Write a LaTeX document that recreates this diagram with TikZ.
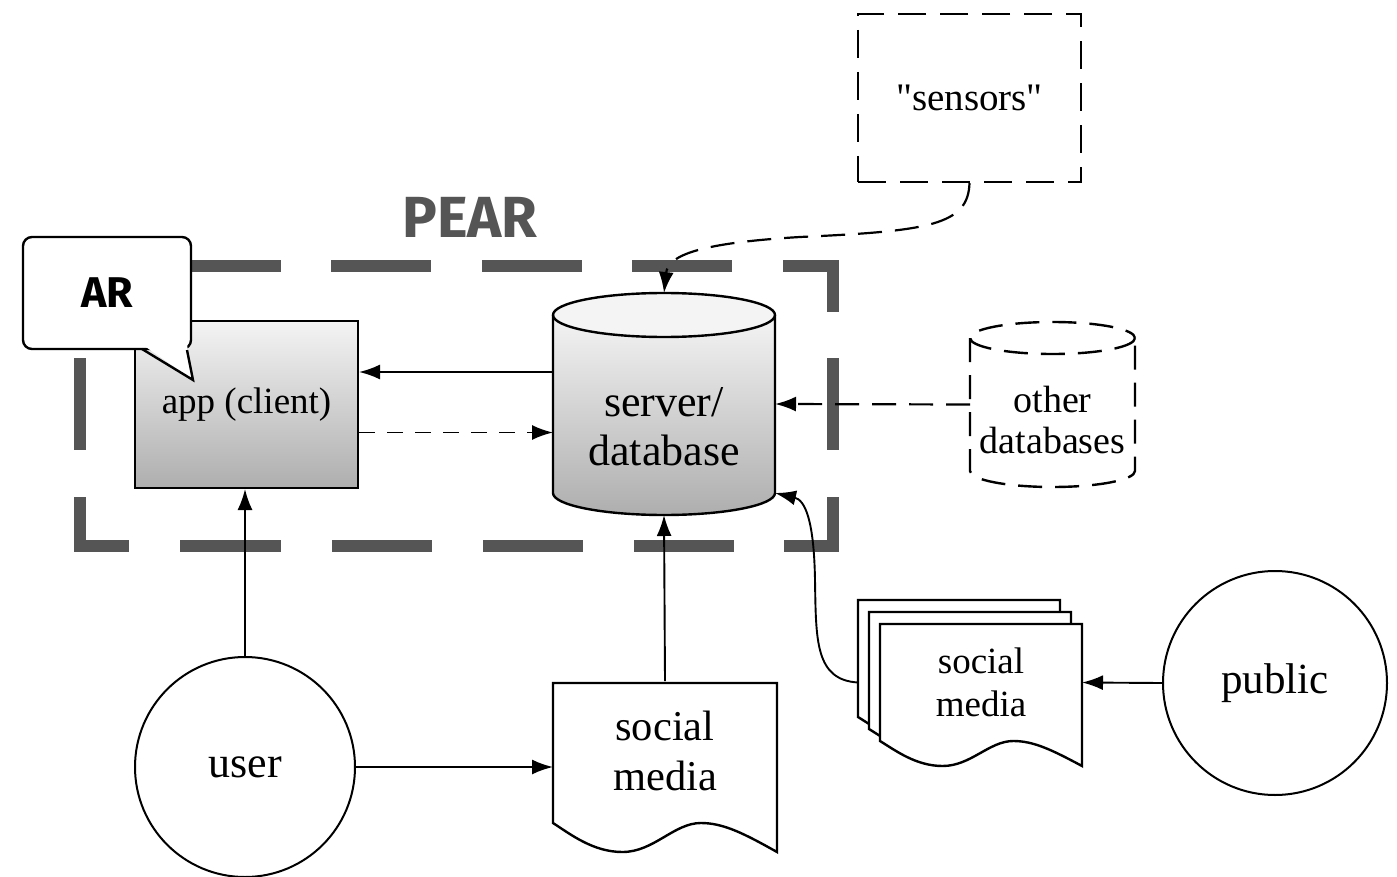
\documentclass[tikz,border=0pt]{standalone}
\usepackage{fontspec}
\setmainfont{Liberation Serif}
\newfontfamily\pearfont{Fira Sans}
\font\sensorsfont="Liberation Serif" at 39pt
\usetikzlibrary{arrows.meta}
\definecolor{peargray}{HTML}{555555}
\definecolor{gradtop}{HTML}{F4F4F4}
\definecolor{gradbot}{HTML}{AEAEAE}
\newcommand\docshape[5]{%
  \draw[shapeline, fill=white] (#1,#2) -- ({#1+#3},#2) -- ({#1+#3},{#2+#4+#5})
    .. controls ({#1+0.85*#3},{#2+#4+0.35*#5}) and ({#1+0.76*#3},{#2+#4}) .. ({#1+0.66*#3},{#2+#4})
    .. controls ({#1+0.54*#3},{#2+#4}) and ({#1+0.45*#3},{#2+#4+#5}) .. ({#1+0.31*#3},{#2+#4+#5})
    .. controls ({#1+0.18*#3},{#2+#4+#5}) and ({#1+0.08*#3},{#2+#4+0.4*#5}) .. (#1,{#2+#4}) -- cycle;}
\begin{document}
\begin{tikzpicture}[x=1pt,y=-1pt,line join=miter,
  shapeline/.style={draw=black, line width=2.4pt},
  pearline/.style={draw=peargray, line width=12pt, line cap=butt},
  conn/.style={line width=1.9pt, -{Latex[length=21pt,width=15pt]}},
  dconn/.style={conn, dash pattern=on 16pt off 12pt},
  dconnb/.style={conn, line width=2.2pt, dash pattern=on 24pt off 13pt},
  dshape/.style={draw=black, line width=2.4pt, dash pattern=on 28pt off 14pt},
  anchorbox/.style={inner sep=0pt, outer sep=0pt}
]
\useasboundingbox (0,0) rectangle (1397,877);

% PEAR dashed frame
\draw[pearline] (80,312) -- (80,266) -- (131,266);
\draw[pearline] (783,266) -- (833,266) -- (833,312);
\draw[pearline] (80,497) -- (80,546) -- (129,546);
\draw[pearline] (784,546) -- (833,546) -- (833,497);
\foreach \a/\b in {181/281,331/431,482/582,632/732} \draw[pearline] (\a,266) -- (\b,266);
\foreach \a/\b in {180/281,332/432,483/583,634/734} \draw[pearline] (\a,546) -- (\b,546);
\draw[pearline] (80,358) -- (80,450);
\draw[pearline] (833,358) -- (833,450);
\node[text=peargray, font=\pearfont\bfseries\fontsize{58}{60}\selectfont] (pear) at (470,217) {PEAR};

% app (client)
\node[draw=black, line width=2pt, top color=gradtop, bottom color=gradbot,
      minimum width=223pt, minimum height=167pt, inner sep=0pt,
      font=\fontsize{37}{42}\selectfont] (app) at (246.5,404.5) {app (client)};

% server/database cylinder
\shade[top color=gradtop, bottom color=gradbot] (553,315) -- (553,493)
   arc[start angle=180, end angle=0, x radius=111, y radius=22] -- (775,315) -- cycle;
\draw[shapeline, fill=gradtop] (664,315) ellipse [x radius=111, y radius=22];
\draw[shapeline] (553,315) -- (553,493) arc[start angle=180, end angle=0, x radius=111, y radius=22] -- (775,315);
\node[anchorbox, minimum width=222pt, minimum height=222pt] (server) at (664,404) {};
\node[font=\fontsize{44}{49}\selectfont, align=center] (servertext) at (664,427) {server/\\database};

% other databases (dashed cylinder)
\draw[dshape, dash pattern=on 24pt off 13pt] (1052.5,338) ellipse [x radius=82.5, y radius=16];
\draw[dshape, dash pattern=on 24pt off 13pt] (970,338) -- (970,471)
   arc[start angle=180, end angle=0, x radius=82.5, y radius=16] -- (1135,338);
\node[anchorbox, minimum width=165pt, minimum height=165pt] (other) at (1052.5,404.5) {};
\node[font=\fontsize{38}{41}\selectfont, align=center] (othertext) at (1052.5,420) {other\\databases};

% sensors
\node[dshape, minimum width=223pt, minimum height=168pt, inner sep=0pt,
      font=\sensorsfont] (sensors) at (969.5,98) {"sensors"};

% user, public
\node[circle, draw=black, line width=2pt, minimum size=220pt, inner sep=0pt,
      font=\fontsize{44}{48}\selectfont] (user) at (245,767) {user};
\node[circle, draw=black, line width=2pt, minimum size=224pt, inner sep=0pt,
      font=\fontsize{43}{48}\selectfont] (public) at (1275,683) {public};

% social media stack
\docshape{858}{600}{202}{117}{25}
\docshape{869}{612}{202}{117}{25}
\docshape{880}{624}{202}{117}{25}
\node[anchorbox, minimum width=202pt, minimum height=117pt] (smback) at (959,658.5) {};
\node[anchorbox, minimum width=202pt, minimum height=117pt,
      font=\fontsize{37}{43}\selectfont, align=center] (smfront) at (981,682.5) {social\\media};

% social media (single)
\docshape{553}{683}{224}{140}{29}
\node[anchorbox, minimum width=224pt, minimum height=140pt,
      font=\fontsize{42.5}{50}\selectfont, align=center] (smbottom) at (665,751) {social\\media};

% AR bubble
\node[draw=black, line width=2.4pt, rounded corners=9pt, fill=white,
      minimum width=168pt, minimum height=112pt, inner sep=0pt,
      font=\pearfont\bfseries\fontsize{43}{46}\selectfont] (ar) at (107,293) {AR};
\fill[white] (143,345) -- (187,345) -- (193,380) -- cycle;
\draw[line width=2.4pt] (142,349) -- (193,380) -- (187,350);

% connectors
\draw[conn] ([yshift=32pt]server.west) -- ([yshift=32pt]server.west -| app.east);
\draw[dconn] ([yshift=-28.5pt]server.west -| app.east) -- ([yshift=-28.5pt]server.west);
\draw[dconnb] (other.west) -- (server.east);
\draw[dconnb] (sensors.south) .. controls (968,225) and (930,231) .. (800,237)
   .. controls (700,243) and (668,255) .. (server.north);
\draw[conn] (user.north) -- (user.north |- app.south);
\draw[conn] (user.east) -- (user.east -| smbottom.west);
\draw[conn] (smbottom.north) -- (server.south);
\draw[conn] (public.west) -- (smfront.east);
\draw[conn] (smback.west |- smfront.west) .. controls (815,680) and (816,640) .. (815,580)
   .. controls (814,520) and (805,500) .. ([yshift=22pt]server.south east);
\end{tikzpicture}
\end{document}
